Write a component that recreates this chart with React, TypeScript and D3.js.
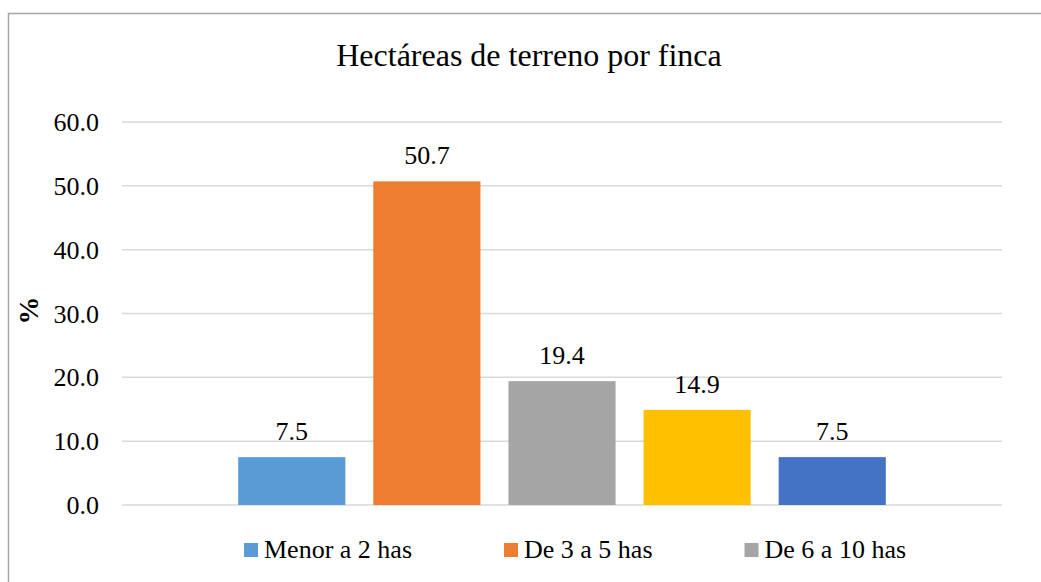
import * as d3 from "d3";
import { useEffect, useRef } from "react";

// datos del gráfico
const series = ["Menor a 2 has", "De 3 a 5 has", "De 6 a 10 has", "De 11 a 20 has", "Más de 20 has"];
const values = [7.5, 50.7, 19.4, 14.9, 7.5];
const colors = ["#5B9BD5", "#ED7D31", "#A5A5A5", "#FFC000", "#4472C4"];
const yTicks = [0, 10, 20, 30, 40, 50, 60];
const legendItems = series.slice(0, 3); // en la imagen solo se ven tres

const W = 1041;
const H = 582;
const FONT = "Liberation Serif";

const App = () => {
    const chartRef = useRef<SVGSVGElement>(null);

    const margin = { top: 122, bottom: 77, left: 122, right: 39 };

    useEffect(() => {
        const svg = d3.select(chartRef.current);
        svg.selectAll("*").remove();

        const boundsWidth = W - margin.left - margin.right;
        const boundsHeight = H - margin.top - margin.bottom;

        const scaleX = d3.scaleBand()
            .domain(series)
            .range([0, boundsWidth])
            .paddingInner(0.207)
            .paddingOuter(0.86);

        const scaleY = d3.scaleLinear()
            .domain([0, 60])
            .range([boundsHeight, 0]);

        // marco del gráfico
        svg.append("path")
            .attr("d", `M8.5,${H} L8.5,13.5 L${W},13.5`)
            .attr("fill", "none")
            .attr("stroke", "#a6a6a6")
            .attr("stroke-width", 1.5);

        // título
        svg.append("text")
            .attr("x", 529)
            .attr("y", 66)
            .attr("text-anchor", "middle")
            .attr("font-family", FONT)
            .attr("font-size", 32)
            .attr("fill", "#000")
            .text("Hectáreas de terreno por finca");

        const g = svg.append("g")
            .attr("transform", `translate(${margin.left}, ${margin.top})`);

        // líneas de la cuadrícula
        g.selectAll(".grid")
            .data(yTicks)
            .enter()
            .append("line")
            .attr("x1", 0)
            .attr("x2", boundsWidth)
            .attr("y1", d => scaleY(d))
            .attr("y2", d => scaleY(d))
            .attr("stroke", "#d9d9d9")
            .attr("stroke-width", 1.5);

        // etiquetas del eje Y
        g.selectAll(".ytick")
            .data(yTicks)
            .enter()
            .append("text")
            .attr("x", -23)
            .attr("y", d => scaleY(d))
            .attr("dy", "0.35em")
            .attr("text-anchor", "end")
            .attr("font-family", FONT)
            .attr("font-size", 26)
            .attr("fill", "#000")
            .text(d => d.toFixed(1));

        // barras
        g.selectAll(".bar")
            .data(values)
            .enter()
            .append("rect")
            .attr("x", (d, i) => scaleX(series[i])!)
            .attr("y", d => scaleY(d))
            .attr("width", scaleX.bandwidth())
            .attr("height", d => boundsHeight - scaleY(d))
            .attr("fill", (d, i) => colors[i]);

        // etiquetas de datos
        g.selectAll(".label")
            .data(values)
            .enter()
            .append("text")
            .attr("x", (d, i) => scaleX(series[i])! + scaleX.bandwidth() / 2)
            .attr("y", d => scaleY(d) - 17)
            .attr("text-anchor", "middle")
            .attr("font-family", FONT)
            .attr("font-size", 26)
            .attr("fill", "#000")
            .text(d => d.toFixed(1));

        // título del eje Y
        svg.append("text")
            .attr("transform", `translate(38, ${margin.top + scaleY(30) - 3}) rotate(-90)`)
            .attr("text-anchor", "middle")
            .attr("font-family", FONT)
            .attr("font-size", 28)
            .attr("font-weight", "bold")
            .attr("fill", "#000")
            .text("%");

        // leyenda
        const legend = svg.append("g");
        let lx = 244;
        legendItems.forEach((name, i) => {
            legend.append("rect")
                .attr("x", lx)
                .attr("y", 543)
                .attr("width", 14)
                .attr("height", 14)
                .attr("fill", colors[i]);
            const t = legend.append("text")
                .attr("x", lx + 20)
                .attr("y", 558)
                .attr("font-family", FONT)
                .attr("font-size", 26)
                .attr("fill", "#000")
                .text(name);
            const len = (t.node() as SVGTextElement).getComputedTextLength();
            lx = lx + 20 + len + 92;
        });
    }, []);

    return (
        <svg
            ref={chartRef}
            width={W}
            height={H}
            style={{ position: "absolute", left: 0, top: 0, background: "#fff" }}
        ></svg>
    );
};

export default App;
